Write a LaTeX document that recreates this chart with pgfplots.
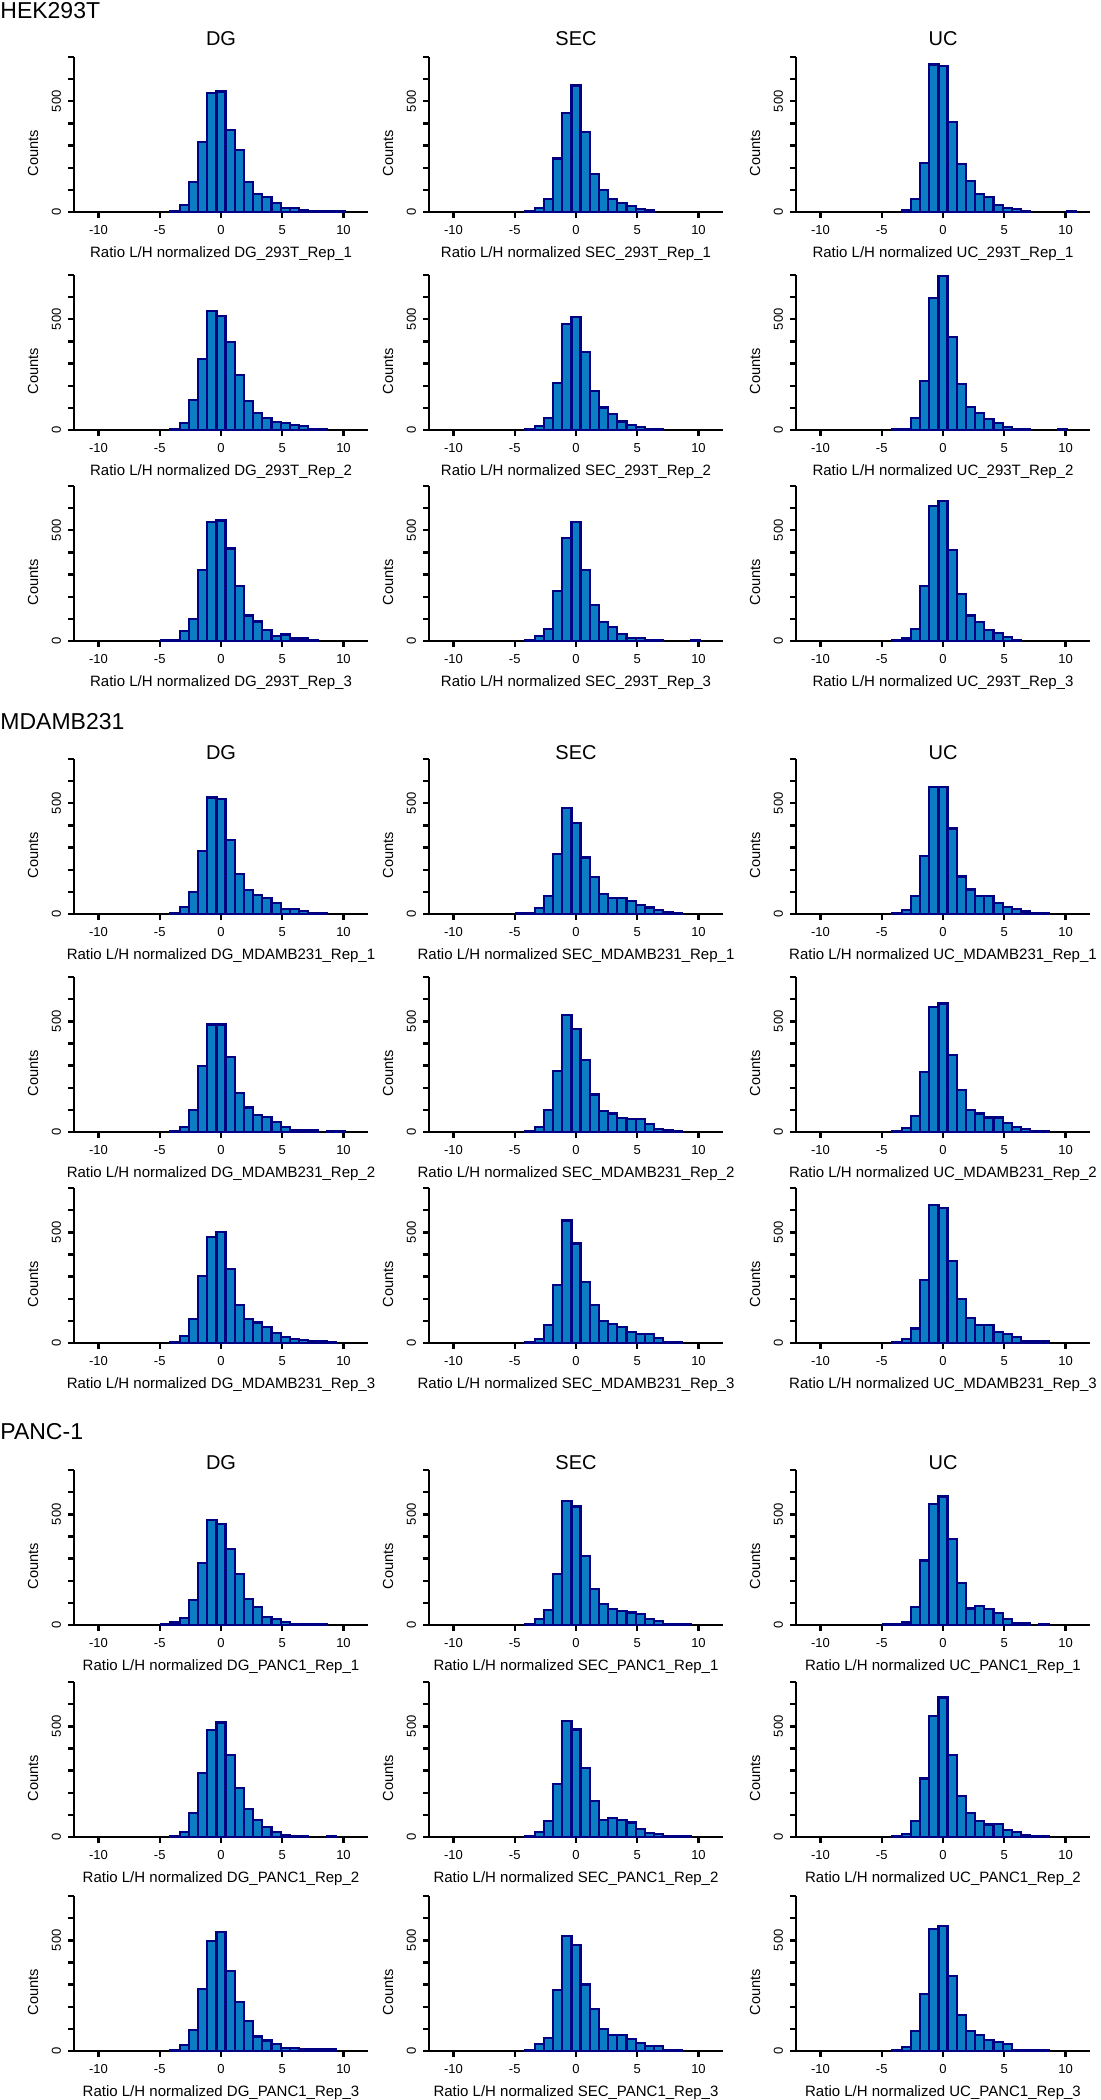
\documentclass[border=0pt]{standalone}
\usepackage{pgfplots}
\pgfplotsset{compat=1.18}
\usepackage{fontspec}
\setmainfont{Liberation Sans}
\definecolor{barfill}{RGB}{10,125,195}
\definecolor{baredge}{RGB}{0,0,130}
\pgfplotsset{
 panel/.style={
  anchor=south west, scale only axis, width=147pt, height=77.5pt,
  xmin=-12, xmax=12, ymin=0, ymax=700,
  axis lines*=left, axis line style={line width=1.4pt, black},
  xtick={-10,-5,0,5,10}, ytick={0,100,...,700}, yticklabels={0,,,,,500,,},
  tick align=outside, major tick length=3pt, tick style={line width=1.2pt, black},
  /pgf/number format/assume math mode=true,
  ticklabel style={font=\fontsize{6.5}{7}\selectfont},
  yticklabel style={rotate=90, anchor=south},
  ylabel={Counts},
  every axis y label/.style={at={(axis description cs:-0.139,0.38)}, rotate=90, anchor=center, font=\fontsize{7.3}{8}\selectfont},
  every axis x label/.style={at={(axis description cs:0.5,0)}, anchor=center, yshift=-21pt, font=\fontsize{7.5}{8}\selectfont},
  clip=false,
 },
 bars/.style={ybar, bar width=0.75, bar shift=0pt, fill=barfill, draw=baredge, line width=1.1pt},
}
\newcommand{\panel}[4]{\begin{axis}[panel, at={(#1,#2)}, xlabel={Ratio L/H normalized #3}]\addplot[bars] coordinates {#4};\end{axis}}
\begin{document}
\begin{tikzpicture}
\useasboundingbox (0,0) rectangle (550pt,-1050pt);
% group titles
\node[anchor=west, inner sep=0pt, font=\fontsize{11.5}{12}\selectfont] at (0pt,-5.5pt) {HEK293T};
\node[anchor=west, inner sep=0pt, font=\fontsize{11.5}{12}\selectfont] at (0pt,-361pt) {MDAMB231};
\node[anchor=west, inner sep=0pt, font=\fontsize{11.5}{12}\selectfont] at (0pt,-716pt) {PANC-1};
\foreach \yy in {-19.5pt,-376.5pt,-731.5pt}{
 \node[font=\fontsize{10}{11}\selectfont] at (110.5pt,\yy) {DG};
 \node[font=\fontsize{10}{11}\selectfont] at (288pt,\yy) {SEC};
 \node[font=\fontsize{10}{11}\selectfont] at (471.5pt,\yy) {UC};
}
% Row 1
\panel{37pt}{-106pt}{DG\_293T\_Rep\_1}{(-3.75,6)(-3,32)(-2.25,137)(-1.5,315)(-0.75,538)(0,544)(0.75,369)(1.5,280)(2.25,137)(3,83)(3.75,66)(4.5,40)(5.25,18)(6,17)(6.75,10)(7.5,6)(8.25,5)(9,5)(9.75,3)}
\panel{214.5pt}{-106pt}{SEC\_293T\_Rep\_1}{(-3.75,6)(-3,18)(-2.25,59)(-1.5,242)(-0.75,446)(0,571)(0.75,361)(1.5,173)(2.25,101)(3,59)(3.75,39)(4.5,26)(5.25,14)(6,8)}
\panel{398pt}{-106pt}{UC\_293T\_Rep\_1}{(-3,10)(-2.25,59)(-1.5,221)(-0.75,666)(0,658)(0.75,405)(1.5,217)(2.25,139)(3,81)(3.75,66)(4.5,33)(5.25,18)(6,12)(6.75,5)(10.5,5)}
% Row 2
\panel{37pt}{-215pt}{DG\_293T\_Rep\_2}{(-3.75,3)(-3,32)(-2.25,136)(-1.5,319)(-0.75,538)(0,515)(0.75,396)(1.5,248)(2.25,130)(3,78)(3.75,56)(4.5,35)(5.25,30)(6,24)(6.75,18)(7.5,5)(8.25,5)}
\panel{214.5pt}{-215pt}{SEC\_293T\_Rep\_2}{(-3.75,3)(-3,18)(-2.25,56)(-1.5,214)(-0.75,479)(0,512)(0.75,351)(1.5,176)(2.25,102)(3,74)(3.75,38)(4.5,23)(5.25,12)(6,5)(6.75,3)}
\panel{398pt}{-215pt}{UC\_293T\_Rep\_2}{(-3.75,3)(-3,3)(-2.25,56)(-1.5,221)(-0.75,595)(0,695)(0.75,419)(1.5,206)(2.25,105)(3,78)(3.75,48)(4.5,30)(5.25,15)(6,5)(6.75,5)(9.75,5)}
% Row 3
\panel{37pt}{-320.5pt}{DG\_293T\_Rep\_3}{(-4.5,5)(-3.75,5)(-3,45)(-2.25,100)(-1.5,319)(-0.75,539)(0,544)(0.75,418)(1.5,248)(2.25,115)(3,88)(3.75,50)(4.5,24)(5.25,29)(6,11)(6.75,11)(7.5,2)}
\panel{214.5pt}{-320.5pt}{SEC\_293T\_Rep\_3}{(-3.75,3)(-3,23)(-2.25,56)(-1.5,227)(-0.75,467)(0,536)(0.75,319)(1.5,162)(2.25,86)(3,62)(3.75,33)(4.5,15)(5.25,15)(6,5)(6.75,2)(9.75,5)}
\panel{398pt}{-320.5pt}{UC\_293T\_Rep\_3}{(-3.75,3)(-3,11)(-2.25,53)(-1.5,248)(-0.75,610)(0,633)(0.75,411)(1.5,213)(2.25,115)(3,86)(3.75,51)(4.5,36)(5.25,17)(6,6)}
% Row 4
\panel{37pt}{-457pt}{DG\_MDAMB231\_Rep\_1}{(-3.75,5)(-3,33)(-2.25,101)(-1.5,286)(-0.75,526)(0,518)(0.75,336)(1.5,179)(2.25,107)(3,87)(3.75,71)(4.5,48)(5.25,24)(6,24)(6.75,15)(7.5,5)(8.25,5)}
\panel{214.5pt}{-457pt}{SEC\_MDAMB231\_Rep\_1}{(-4.5,3)(-3.75,3)(-3,26)(-2.25,81)(-1.5,270)(-0.75,480)(0,410)(0.75,255)(1.5,167)(2.25,92)(3,72)(3.75,72)(4.5,59)(5.25,41)(6,29)(6.75,17)(7.5,9)(8.25,6)}
\panel{398pt}{-457pt}{UC\_MDAMB231\_Rep\_1}{(-3.75,5)(-3,18)(-2.25,81)(-1.5,262)(-0.75,572)(0,572)(0.75,386)(1.5,169)(2.25,111)(3,83)(3.75,83)(4.5,50)(5.25,33)(6,23)(6.75,11)(7.5,5)(8.25,5)}
% Row 5
\panel{37pt}{-566pt}{DG\_MDAMB231\_Rep\_2}{(-3.75,6)(-3,23)(-2.25,99)(-1.5,298)(-0.75,486)(0,486)(0.75,339)(1.5,176)(2.25,111)(3,78)(3.75,69)(4.5,45)(5.25,24)(6,9)(6.75,9)(7.5,9)(9,5)(9.75,5)}
\panel{214.5pt}{-566pt}{SEC\_MDAMB231\_Rep\_2}{(-3.75,3)(-3,23)(-2.25,99)(-1.5,277)(-0.75,530)(0,467)(0.75,325)(1.5,169)(2.25,96)(3,84)(3.75,63)(4.5,57)(5.25,57)(6,35)(6.75,15)(7.5,9)(8.25,6)}
\panel{398pt}{-566pt}{UC\_MDAMB231\_Rep\_2}{(-3.75,5)(-3,18)(-2.25,72)(-1.5,271)(-0.75,565)(0,580)(0.75,349)(1.5,188)(2.25,99)(3,84)(3.75,66)(4.5,66)(5.25,39)(6,21)(6.75,15)(7.5,5)(8.25,5)}
% Row 6
\panel{37pt}{-671.5pt}{DG\_MDAMB231\_Rep\_3}{(-3.75,5)(-3,32)(-2.25,107)(-1.5,304)(-0.75,477)(0,503)(0.75,336)(1.5,172)(2.25,107)(3,93)(3.75,71)(4.5,45)(5.25,27)(6,18)(6.75,14)(7.5,9)(8.25,9)(9,5)}
\panel{214.5pt}{-671.5pt}{SEC\_MDAMB231\_Rep\_3}{(-3.75,5)(-3,18)(-2.25,81)(-1.5,262)(-0.75,553)(0,449)(0.75,277)(1.5,172)(2.25,99)(3,86)(3.75,71)(4.5,51)(5.25,41)(6,41)(6.75,23)(7.5,5)(8.25,5)}
\panel{398pt}{-671.5pt}{UC\_MDAMB231\_Rep\_3}{(-3.75,5)(-3,18)(-2.25,66)(-1.5,285)(-0.75,623)(0,608)(0.75,372)(1.5,199)(2.25,114)(3,81)(3.75,81)(4.5,51)(5.25,41)(6,29)(6.75,8)(7.5,8)(8.25,8)}
% Row 7
\panel{37pt}{-812.5pt}{DG\_PANC1\_Rep\_1}{(-4.5,6)(-3.75,11)(-3,30)(-2.25,113)(-1.5,279)(-0.75,474)(0,455)(0.75,343)(1.5,229)(2.25,116)(3,80)(3.75,35)(4.5,27)(5.25,15)(6,6)(6.75,6)(7.5,6)(8.25,6)}
\panel{214.5pt}{-812.5pt}{SEC\_PANC1\_Rep\_1}{(-3.75,6)(-3,26)(-2.25,68)(-1.5,230)(-0.75,560)(0,535)(0.75,313)(1.5,164)(2.25,95)(3,74)(3.75,65)(4.5,57)(5.25,48)(6,26)(6.75,18)(7.5,6)(8.25,6)(9,6)}
\panel{398pt}{-812.5pt}{UC\_PANC1\_Rep\_1}{(-4.5,6)(-3.75,6)(-3,11)(-2.25,83)(-1.5,291)(-0.75,547)(0,580)(0.75,389)(1.5,188)(2.25,75)(3,87)(3.75,71)(4.5,53)(5.25,27)(6,8)(6.75,8)(8.25,6)}
% Row 8
\panel{37pt}{-918.5pt}{DG\_PANC1\_Rep\_2}{(-3.75,5)(-3,24)(-2.25,108)(-1.5,289)(-0.75,482)(0,517)(0.75,369)(1.5,221)(2.25,126)(3,78)(3.75,45)(4.5,23)(5.25,9)(6,6)(6.75,6)(9,6)}
\panel{214.5pt}{-918.5pt}{SEC\_PANC1\_Rep\_2}{(-3.75,5)(-3,24)(-2.25,71)(-1.5,241)(-0.75,524)(0,486)(0.75,312)(1.5,164)(2.25,78)(3,87)(3.75,77)(4.5,66)(5.25,38)(6,18)(6.75,14)(7.5,5)(8.25,5)(9,5)}
\panel{398pt}{-918.5pt}{UC\_PANC1\_Rep\_2}{(-3.75,5)(-3,15)(-2.25,72)(-1.5,264)(-0.75,545)(0,630)(0.75,369)(1.5,187)(2.25,108)(3,71)(3.75,57)(4.5,60)(5.25,32)(6,23)(6.75,9)(7.5,5)(8.25,5)}
% Row 9
\panel{37pt}{-1025.5pt}{DG\_PANC1\_Rep\_3}{(-3.75,6)(-3,26)(-2.25,96)(-1.5,279)(-0.75,497)(0,538)(0.75,361)(1.5,221)(2.25,137)(3,66)(3.75,48)(4.5,33)(5.25,14)(6,14)(6.75,8)(7.5,8)(8.25,8)(9,8)}
\panel{214.5pt}{-1025.5pt}{SEC\_PANC1\_Rep\_3}{(-3.75,6)(-3,30)(-2.25,60)(-1.5,277)(-0.75,518)(0,480)(0.75,300)(1.5,191)(2.25,101)(3,72)(3.75,72)(4.5,56)(5.25,36)(6,23)(6.75,23)(7.5,6)(8.25,6)}
\panel{398pt}{-1025.5pt}{UC\_PANC1\_Rep\_3}{(-3.75,6)(-3,18)(-2.25,89)(-1.5,258)(-0.75,551)(0,565)(0.75,339)(1.5,164)(2.25,89)(3,74)(3.75,51)(4.5,41)(5.25,30)(6,6)(6.75,6)(7.5,6)(8.25,6)}
\end{tikzpicture}
\end{document}
